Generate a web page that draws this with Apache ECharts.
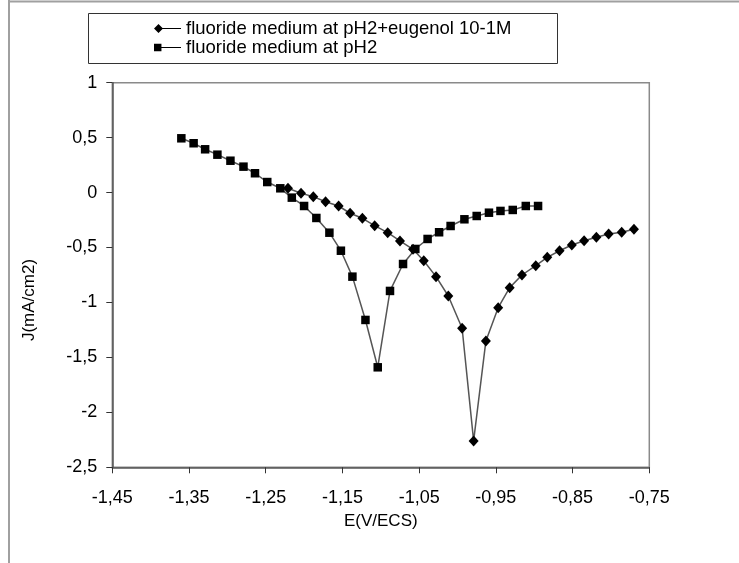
<!DOCTYPE html>
<html>
<head>
<meta charset="utf-8">
<script src="https://cdn.jsdelivr.net/npm/echarts@6/dist/echarts.min.js"></script>
<style>
html,body{margin:0;padding:0;background:#fff;}
#chart{width:739px;height:563px;}
</style>
</head>
<body>
<div id="chart"></div>
<script>
// Series: fluoride medium at pH2 + eugenol 10-1M (diamonds)
var eugenolE = [-1.221,-1.204,-1.188,-1.172,-1.155,-1.140,-1.124,-1.108,-1.091,-1.075,-1.058,-1.044,-1.028,-1.012,-0.994,-0.979,-0.963,-0.947,-0.932,-0.916,-0.898,-0.883,-0.867,-0.851,-0.835,-0.819,-0.803,-0.786,-0.770];
var eugenolJ = [0.039,-0.006,-0.037,-0.083,-0.122,-0.188,-0.234,-0.301,-0.365,-0.440,-0.516,-0.620,-0.765,-0.941,-1.235,-2.260,-1.350,-1.047,-0.865,-0.750,-0.665,-0.589,-0.529,-0.477,-0.438,-0.407,-0.377,-0.361,-0.334];
// Series: fluoride medium at pH2 (squares)
var blankE = [-1.360,-1.344,-1.329,-1.313,-1.296,-1.279,-1.264,-1.248,-1.231,-1.216,-1.200,-1.184,-1.167,-1.152,-1.137,-1.120,-1.104,-1.088,-1.071,-1.055,-1.039,-1.024,-1.009,-0.991,-0.975,-0.959,-0.944,-0.928,-0.911,-0.895];
var blankJ = [0.494,0.449,0.394,0.345,0.290,0.236,0.176,0.096,0.039,-0.046,-0.122,-0.231,-0.365,-0.529,-0.765,-1.159,-1.590,-0.895,-0.650,-0.513,-0.422,-0.361,-0.304,-0.243,-0.213,-0.183,-0.167,-0.158,-0.122,-0.122];
var seriesNames = ['fluoride medium at pH2+eugenol 10-1M', 'fluoride medium at pH2'];
var xTicks = [-1.45,-1.35,-1.25,-1.15,-1.05,-0.95,-0.85,-0.75];
var yTicks = [-2.5,-2,-1.5,-1,-0.5,0,0.5,1];
var xTitle = 'E(V/ECS)';
var yTitle = 'J(mA/cm2)';

function pairs(xs, ys){ return xs.map(function(x,i){ return [x, ys[i]]; }); }
function fmt(v){ var s = (Math.round(v*100)/100).toString(); return s.replace('.', ','); }

var chart = echarts.init(document.getElementById('chart'), null, {renderer:'canvas'});
var font = '"Liberation Sans", Arial, sans-serif';
var diamondIcon = 'path://M0,5 L5,0 L10,5 L5,10 Z M9,4.4 L30,4.4 L30,5.6 L9,5.6 Z';
var squareIcon = 'path://M1,1 L9,1 L9,9 L1,9 Z M9,4.4 L30,4.4 L30,5.6 L9,5.6 Z';

chart.setOption({
  animation: false,
  backgroundColor: '#fff',
  textStyle: {fontFamily: font},
  graphic: [
    {type:'line', shape:{x1:9, y1:1.5, x2:739, y2:1.5}, style:{stroke:'#a0a0a0', lineWidth:2}},
    {type:'line', shape:{x1:9, y1:0, x2:9, y2:563}, style:{stroke:'#a0a0a0', lineWidth:2}},
    {type:'rect', shape:{x:88.5, y:13.5, width:469, height:50}, style:{fill:'#fff', stroke:'#333', lineWidth:1}, z:-1},
    {type:'text', x:29, y:300, rotation:Math.PI/2,
      style:{text:yTitle, fontSize:17, fontFamily:font, fill:'#000', align:'center', verticalAlign:'middle'}}
  ],
  legend: {
    orient: 'vertical',
    left: 154, top: 19,
    padding: 0,
    itemGap: 0,
    itemWidth: 27, itemHeight: 9,
    textStyle: {fontSize: 18.5, fontFamily: font, color:'#000', lineHeight: 16},
    data: [
      {name: seriesNames[0], icon: diamondIcon},
      {name: seriesNames[1], icon: squareIcon}
    ]
  },
  grid: {left: 112.3, top: 82.7, right: 89.7, bottom: 95.7, show: true, borderColor: '#8a8a8a', borderWidth: 1.5, backgroundColor: '#fff'},
  xAxis: {
    type: 'value', min: -1.45, max: -0.75,
    name: xTitle, nameLocation: 'middle', nameGap: 46,
    nameTextStyle: {fontSize: 17, color:'#000', fontFamily: font},
    axisLine: {onZero: false, lineStyle: {color: '#555', width: 1.5}},
    axisTick: {show: true, length: 6, customValues: xTicks, lineStyle: {color:'#333'}},
    axisLabel: {customValues: xTicks, margin: 22, fontSize: 18, color: '#000', fontFamily: font, formatter: function(v){ return fmt(v); }},
    splitLine: {show: false}
  },
  yAxis: {
    type: 'value', min: -2.5, max: 1, interval: 0.5,
    axisLine: {show: true, onZero: false, lineStyle: {color: '#555', width: 1.5}},
    axisTick: {show: true, length: 6, lineStyle: {color:'#333'}},
    axisLabel: {margin: 15, fontSize: 18, color: '#000', fontFamily: font, formatter: function(v){ return fmt(v); }},
    splitLine: {show: false}
  },
  series: [
    {
      name: seriesNames[0], type: 'line', data: pairs(eugenolE, eugenolJ),
      symbol: 'diamond', symbolSize: [10, 11],
      itemStyle: {color: '#000'},
      lineStyle: {color: '#555', width: 1.5}
    },
    {
      name: seriesNames[1], type: 'line', data: pairs(blankE, blankJ),
      symbol: 'rect', symbolSize: 8.5,
      itemStyle: {color: '#000'},
      lineStyle: {color: '#555', width: 1.5}
    }
  ]
});
</script>
</body>
</html>
